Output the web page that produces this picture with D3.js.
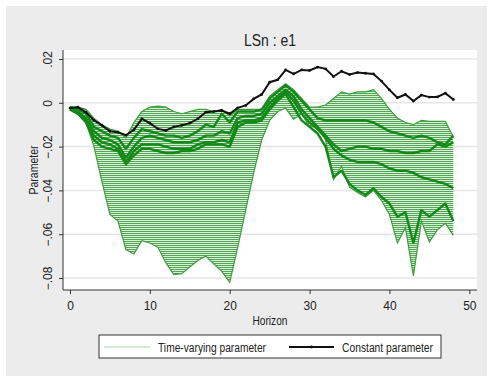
<!DOCTYPE html>
<html>
<head>
<meta charset="utf-8">
<script src="https://cdn.jsdelivr.net/npm/d3@7"></script>
<style>
  html, body { margin: 0; padding: 0; background: #fff; }
  svg text { font-family: "Liberation Sans", Arial, sans-serif; fill: #222; }
</style>
</head>
<body>
<svg id="chart" width="493" height="382"></svg>
<script>
// * horizons 0..48
const horizons = d3.range(0, 49);

// * constant parameter (black line)
const constantParam = [
  -0.0024, -0.002, -0.0043, -0.008, -0.0103, -0.013, -0.0134, -0.0148, -0.0123, -0.0073,
  -0.0093, -0.0119, -0.0126, -0.011, -0.0103, -0.0093, -0.0073, -0.0043, -0.004, -0.0035,
  -0.005, -0.0023, -0.0012, 0.0018, 0.0038, 0.0094, 0.0105, 0.015, 0.0132, 0.015,
  0.0148, 0.0163, 0.0155, 0.012, 0.0144, 0.0129, 0.0138, 0.0135, 0.0132, 0.0099,
  0.0059, 0.0023, 0.0038, 0.0008, 0.0035, 0.0026, 0.0027, 0.0044, 0.0015,
];

// * time-varying parameter: upper and lower edge of the bundle of estimates
const tvUpper = [
  -0.002, -0.002, -0.003, -0.007, -0.010, -0.012, -0.013, -0.016, -0.009, -0.004,
  -0.002, -0.0015, -0.002, -0.004, -0.005, -0.004, -0.003, -0.003, -0.004, -0.003,
  -0.006, -0.003, -0.003, -0.003, -0.003, 0.003, 0.006, 0.0087, 0.006, 0.002,
  -0.002, -0.002, -0.001, 0.002, 0.005, 0.004, 0.005, 0.005, 0.006, 0.002,
  -0.003, -0.007, -0.009, -0.010, -0.008, -0.0085, -0.0085, -0.0085, -0.0155,
];
const tvLower = [
  -0.003, -0.005, -0.009, -0.020, -0.036, -0.051, -0.054, -0.067, -0.069, -0.063,
  -0.064, -0.066, -0.073, -0.0785, -0.078, -0.075, -0.072, -0.070, -0.0735, -0.077,
  -0.082, -0.066, -0.049, -0.032, -0.017, -0.008, -0.004, -0.0025, -0.0075, -0.005,
  -0.011, -0.011, -0.017, -0.035, -0.029, -0.0385, -0.041, -0.043, -0.040, -0.0446,
  -0.051, -0.064, -0.057, -0.079, -0.054, -0.0635, -0.058, -0.055, -0.0605,
];

// * time-varying parameter: the dense (dark) strands
const tvStrandA = [
  -0.002, -0.003, -0.005, -0.011, -0.013, -0.015, -0.016, -0.021, -0.016, -0.012,
  -0.013, -0.014, -0.015, -0.015, -0.016, -0.015, -0.013, -0.010, -0.011, -0.005,
  -0.009, -0.004, -0.004, -0.004, -0.003, 0.002, 0.005, 0.008, 0.005, 0.001,
  -0.003, -0.007, -0.008, -0.008, -0.008, -0.008, -0.008, -0.008, -0.009, -0.011,
  -0.013, -0.014, -0.015, -0.016, -0.015, -0.016, -0.018, -0.019, -0.015,
];
const tvStrandB = [
  -0.003, -0.004, -0.007, -0.013, -0.016, -0.017, -0.019, -0.025, -0.020, -0.016,
  -0.015, -0.016, -0.017, -0.018, -0.018, -0.018, -0.017, -0.015, -0.015, -0.013,
  -0.014, -0.007, -0.006, -0.006, -0.005, 0.000, 0.003, 0.006, 0.003, -0.003,
  -0.007, -0.011, -0.015, -0.019, -0.022, -0.021, -0.020, -0.020, -0.021, -0.021,
  -0.022, -0.022, -0.023, -0.023, -0.022, -0.022, -0.019, -0.020, -0.018,
];
const tvStrandC = [
  -0.003, -0.005, -0.008, -0.015, -0.018, -0.019, -0.021, -0.027, -0.022, -0.019,
  -0.019, -0.019, -0.020, -0.021, -0.021, -0.021, -0.019, -0.018, -0.018, -0.017,
  -0.018, -0.009, -0.008, -0.008, -0.007, -0.002, 0.002, 0.005, 0.001, -0.005,
  -0.009, -0.012, -0.016, -0.021, -0.024, -0.026, -0.027, -0.027, -0.027, -0.028,
  -0.030, -0.031, -0.031, -0.032, -0.034, -0.035, -0.036, -0.037, -0.039,
];
const tvStrandD = [
  -0.003, -0.005, -0.009, -0.017, -0.020, -0.021, -0.022, -0.028, -0.024, -0.021,
  -0.021, -0.022, -0.023, -0.023, -0.022, -0.022, -0.021, -0.019, -0.019, -0.019,
  -0.020, -0.011, -0.009, -0.009, -0.008, -0.003, 0.001, 0.004, -0.002, -0.008,
  -0.011, -0.014, -0.020, -0.034, -0.031, -0.037, -0.040, -0.042, -0.039, -0.043,
  -0.046, -0.052, -0.050, -0.064, -0.049, -0.052, -0.049, -0.046, -0.054,
];
const tvStrands = [tvStrandA, tvStrandB, tvStrandC, tvStrandD];

const xTicks = [0, 10, 20, 30, 40, 50];
const yTicks = [-0.08, -0.06, -0.04, -0.02, 0, 0.02];

const svg = d3.select("#chart");
const W = 493;
const H = 382;
const plot = { left: 63, right: 477, top: 50, bottom: 290 };

const xScale = d3.scaleLinear().domain([0, 50]).range([70, 469.3]);
const yScale = d3.scaleLinear().domain([-0.08, 0.02]).range([278, 59]);

// * graph region and plot region
svg.append("rect").attr("x", 6).attr("y", 6).attr("width", W - 12).attr("height", H - 12).attr("fill", "#ececec");
svg
  .append("rect")
  .attr("x", plot.left)
  .attr("y", plot.top)
  .attr("width", plot.right - plot.left)
  .attr("height", plot.bottom - plot.top)
  .attr("fill", "#fff");

const defs = svg.append("defs");
defs
  .append("clipPath")
  .attr("id", "plotClip")
  .append("rect")
  .attr("x", plot.left)
  .attr("y", plot.top)
  .attr("width", plot.right - plot.left)
  .attr("height", plot.bottom - plot.top);

// * thin hatch look of the many estimate lines
const hatch = defs
  .append("pattern")
  .attr("id", "hatch")
  .attr("patternUnits", "userSpaceOnUse")
  .attr("width", 6)
  .attr("height", 2);
hatch.append("rect").attr("width", 6).attr("height", 2).attr("fill", "#dcefdc");
hatch.append("rect").attr("y", 1).attr("width", 6).attr("height", 1).attr("fill", "#52a852");

// * grid lines
svg
  .append("g")
  .selectAll("line")
  .data(yTicks)
  .enter()
  .append("line")
  .attr("x1", plot.left)
  .attr("x2", plot.right)
  .attr("y1", (d) => yScale(d))
  .attr("y2", (d) => yScale(d))
  .style("stroke", "#e6e6e6")
  .style("stroke-width", 1.5);

const layer = svg.append("g").attr("clip-path", "url(#plotClip)");

const band = d3
  .area()
  .x((d, i) => xScale(horizons[i]))
  .y0((d, i) => yScale(tvLower[i]))
  .y1((d, i) => yScale(tvUpper[i]));
layer.append("path").datum(tvUpper).attr("d", band).style("fill", "url(#hatch)");

const line = (values) =>
  d3
    .line()
    .x((d, i) => xScale(horizons[i]))
    .y((d) => yScale(d))(values);

layer
  .selectAll("path.edge")
  .data([tvUpper, tvLower])
  .enter()
  .append("path")
  .attr("class", "edge")
  .attr("d", (d) => line(d))
  .style("fill", "none")
  .style("stroke", "#3d9c3d")
  .style("stroke-width", 1.2);

layer
  .selectAll("path.strand")
  .data(tvStrands)
  .enter()
  .append("path")
  .attr("class", "strand")
  .attr("d", (d) => line(d))
  .style("fill", "none")
  .style("stroke", "#14891a")
  .style("stroke-width", 2.4)
  .style("stroke-linejoin", "round");

// * constant parameter
layer
  .append("path")
  .attr("d", line(constantParam))
  .style("fill", "none")
  .style("stroke", "#111")
  .style("stroke-width", 2);
layer
  .selectAll("circle")
  .data(constantParam)
  .enter()
  .append("circle")
  .attr("cx", (d, i) => xScale(horizons[i]))
  .attr("cy", (d) => yScale(d))
  .attr("r", 1.4)
  .style("fill", "#111");

// * axes
const fmtY = (d) => (d === 0 ? "0" : d3.format(".2f")(d).replace("0.", "."));

const yAxis = svg
  .append("g")
  .attr("transform", `translate(${plot.left},0)`)
  .call(d3.axisLeft(yScale).tickValues(yTicks).tickSize(4).tickFormat(fmtY));
yAxis.select(".domain").attr("d", `M0,${plot.top}V${plot.bottom}`).style("stroke", "#333");
yAxis.selectAll(".tick line").style("stroke", "#333");
yAxis
  .selectAll(".tick text")
  .attr("x", null)
  .attr("dy", null)
  .attr("transform", "translate(-11,0) rotate(-90)")
  .attr("text-anchor", "middle")
  .style("font-size", "12px");

const xAxis = svg
  .append("g")
  .attr("transform", `translate(0,${plot.bottom})`)
  .call(d3.axisBottom(xScale).tickValues(xTicks).tickSize(4).tickFormat(d3.format("d")));
xAxis.select(".domain").attr("d", `M${plot.left},0H${plot.right}`).style("stroke", "#333");
xAxis.selectAll(".tick line").style("stroke", "#333");
xAxis.selectAll(".tick text").attr("y", 11).style("font-size", "12px");

// * titles
const cx = (plot.left + plot.right) / 2;
svg
  .append("text")
  .attr("x", cx)
  .attr("y", 46)
  .attr("text-anchor", "middle")
  .attr("textLength", 52)
  .attr("lengthAdjust", "spacingAndGlyphs")
  .style("font-size", "16px")
  .text("LSn : e1");
svg
  .append("text")
  .attr("x", cx)
  .attr("y", 325)
  .attr("text-anchor", "middle")
  .attr("textLength", 35)
  .attr("lengthAdjust", "spacingAndGlyphs")
  .style("font-size", "12.5px")
  .text("Horizon");
svg
  .append("text")
  .attr("transform", `translate(38,${(plot.top + plot.bottom) / 2}) rotate(-90)`)
  .attr("text-anchor", "middle")
  .attr("textLength", 49)
  .attr("lengthAdjust", "spacingAndGlyphs")
  .style("font-size", "12.5px")
  .text("Parameter");

// * legend
const legend = svg.append("g");
legend
  .append("rect")
  .attr("x", 99)
  .attr("y", 335)
  .attr("width", 342)
  .attr("height", 23)
  .style("fill", "#fff")
  .style("stroke", "#333")
  .style("stroke-width", 1);
legend.append("line").attr("x1", 104).attr("x2", 150).attr("y1", 347).attr("y2", 347).style("stroke", "#a9d6a9").style("stroke-width", 1.2);
legend
  .append("text")
  .attr("x", 158)
  .attr("y", 351.5)
  .attr("textLength", 108)
  .attr("lengthAdjust", "spacingAndGlyphs")
  .style("font-size", "12.5px")
  .text("Time-varying parameter");
legend.append("line").attr("x1", 289).attr("x2", 334).attr("y1", 347).attr("y2", 347).style("stroke", "#111").style("stroke-width", 2);
legend.append("circle").attr("cx", 311.5).attr("cy", 347).attr("r", 1.4).style("fill", "#111");
legend
  .append("text")
  .attr("x", 342)
  .attr("y", 351.5)
  .attr("textLength", 91)
  .attr("lengthAdjust", "spacingAndGlyphs")
  .style("font-size", "12.5px")
  .text("Constant parameter");
</script>
</body>
</html>
